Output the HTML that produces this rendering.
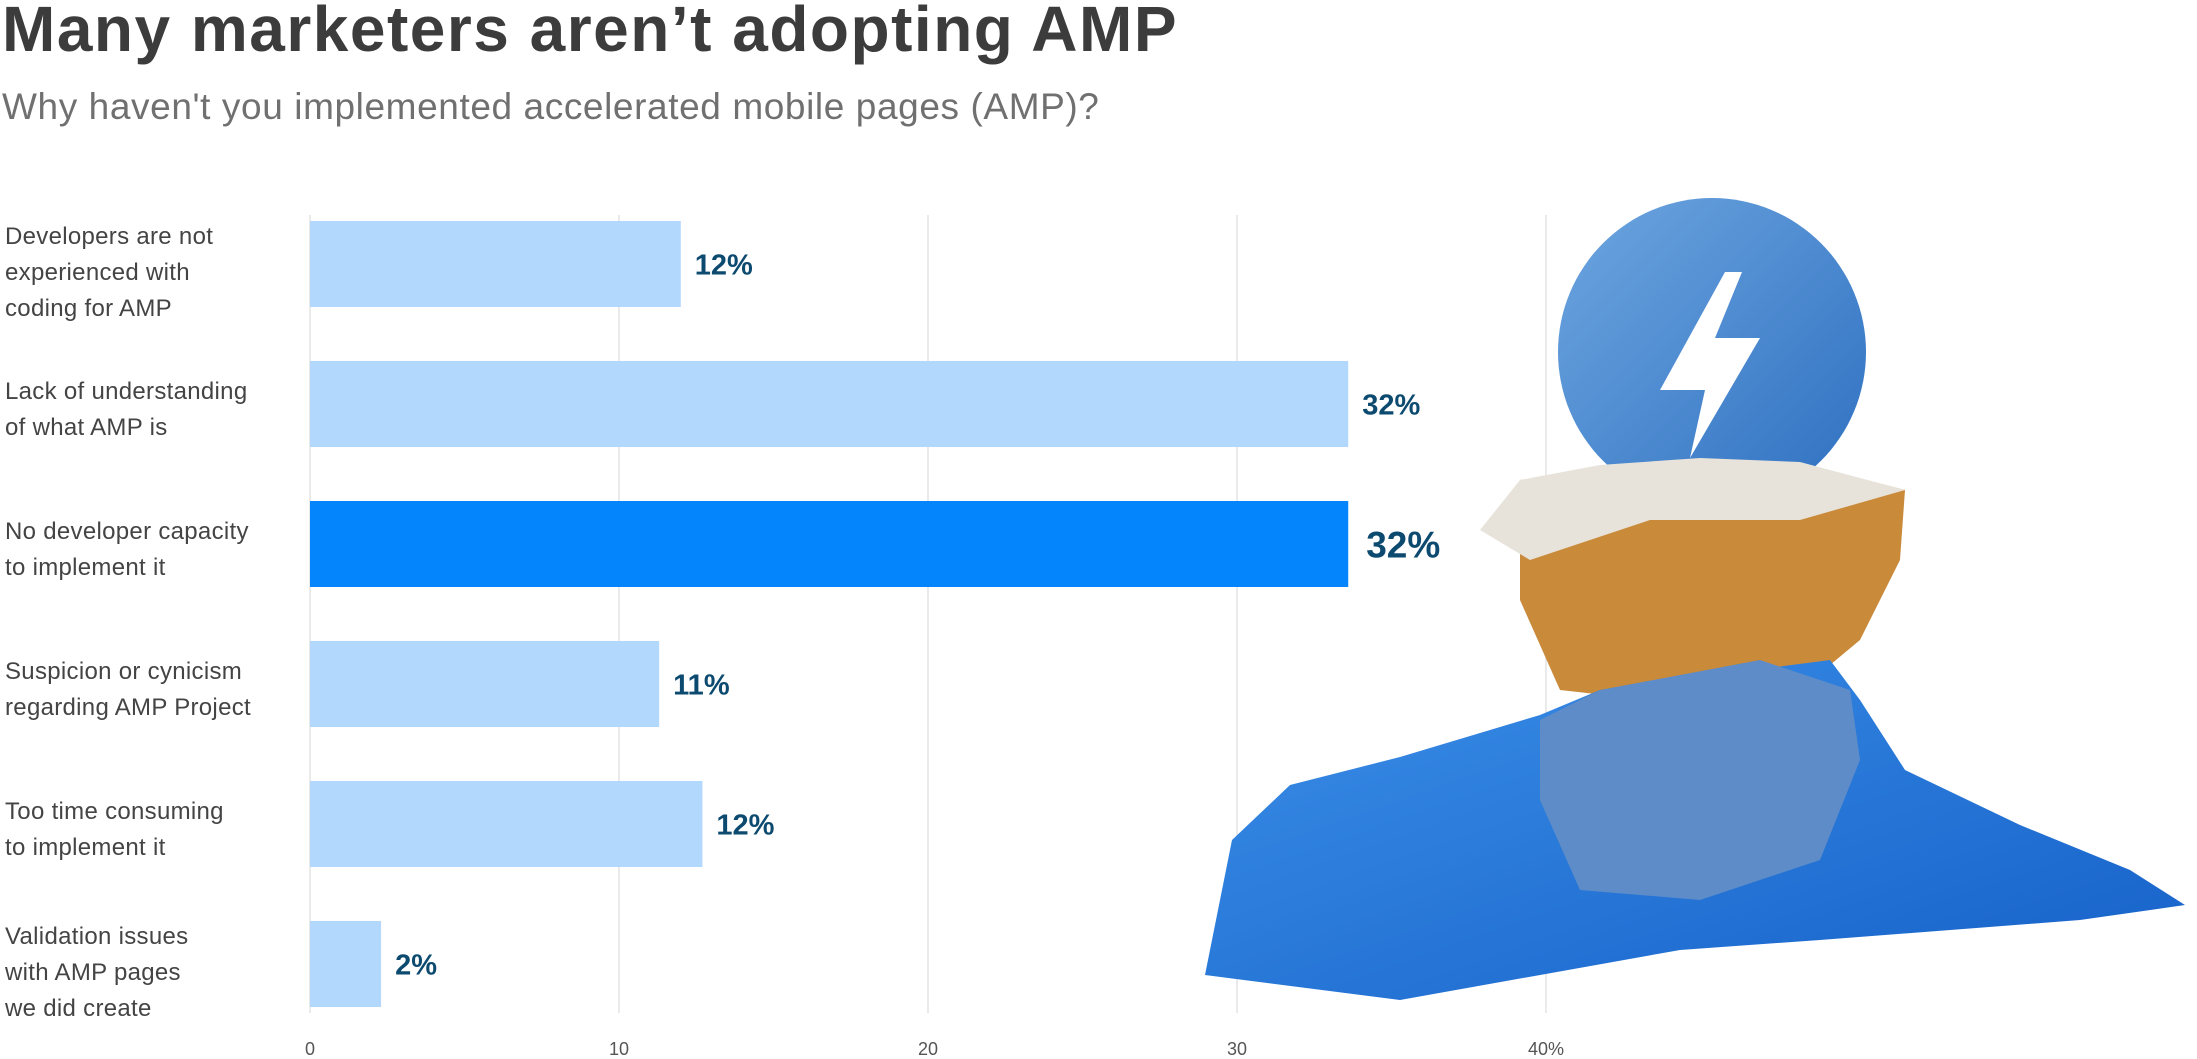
<!DOCTYPE html>
<html><head><meta charset="utf-8"><style>
body{margin:0;width:2197px;height:1059px;background:#fff;overflow:hidden;position:relative;font-family:"Liberation Sans",sans-serif}
.t{position:absolute;left:2px;top:-8px;font-size:64px;font-weight:bold;color:#3c3c3c;letter-spacing:1.5px}
.s{position:absolute;left:2px;top:86px;font-size:37px;color:#707070;letter-spacing:0.6px}
.lab{position:absolute;left:5px;font-size:24px;line-height:36px;color:#444;letter-spacing:0.3px}
</style></head><body>
<div class="t">Many marketers aren’t adopting AMP</div>
<div class="s">Why haven't you implemented accelerated mobile pages (AMP)?</div>
<svg id="chart" width="2197" height="1059" style="position:absolute;left:0;top:0"></svg>
<svg id="ill" width="2197" height="1059" style="position:absolute;left:0;top:0">
<defs><linearGradient id="sg" x1="0" y1="0" x2="1" y2="1"><stop offset="0" stop-color="#3b8fe8"/><stop offset="1" stop-color="#1560c8"/></linearGradient>
<linearGradient id="cg" x1="0" y1="0" x2="1" y2="1"><stop offset="0" stop-color="#6ea6e0"/><stop offset="1" stop-color="#2d6fc0"/></linearGradient></defs>
<g>
<circle cx="1712" cy="352" r="154" fill="url(#cg)"/>
<polygon points="1725,272 1660,390 1705,390 1690,458 1760,338 1715,338 1742,272" fill="#fff"/>
</g>
<polygon points="1520,480 1600,470 1700,460 1820,468 1905,490 1900,560 1860,640 1800,690 1650,700 1560,690 1520,600" fill="#c98a3a"/>
<polygon points="1480,530 1520,480 1600,465 1700,458 1800,462 1905,490 1800,520 1650,520 1530,560" fill="#e7e3da"/>
<polygon points="1205,975 1232,840 1290,785 1400,757 1540,715 1600,690 1830,660 1860,700 1905,770 2020,825 2130,870 2185,905 2080,920 1820,940 1680,950 1400,1000" fill="url(#sg)"/>
<polygon points="1540,720 1600,690 1760,660 1850,690 1860,760 1820,860 1700,900 1580,890 1540,800" fill="#5d8cc8"/>
</svg>
<script>
const categories=[["Developers are not","experienced with","coding for AMP"],["Lack of understanding","of what AMP is"],["No developer capacity","to implement it"],["Suspicion or cynicism","regarding AMP Project"],["Too time consuming","to implement it"],["Validation issues","with AMP pages","we did create"]];
const values=[12.0,33.6,33.6,11.3,12.7,2.3];
const valueLabels=["12%","32%","32%","11%","12%","2%"];
const highlight=[false,false,true,false,false,false];
const ticks=[0,10,20,30,40];
const tickLabels=["0","10","20","30","40%"];
const ns="http://www.w3.org/2000/svg",svg=document.getElementById('chart');
const x=v=>310+v*30.9, yTop=i=>221+i*140, bh=86;
function mk(t,a){const e=document.createElementNS(ns,t);for(const k in a)e.setAttribute(k,a[k]);svg.appendChild(e);return e;}
ticks.forEach((t,i)=>{
 const l=mk('line',{x1:x(t),x2:x(t),y1:215,y2:1013,stroke:'#e3e3e3','stroke-width':1.5});
 
 
 const tx=mk('text',{x:x(t),y:1055,'font-size':18,fill:'#555','text-anchor':'middle','font-family':'Liberation Sans'});
 tx.textContent=tickLabels[i];
 
 
});
values.forEach((v,i)=>{
 const r=mk('rect',{x:x(0),y:yTop(i),width:x(v)-x(0),height:bh,fill:highlight[i]?'#0485fb':'#b3d8fd'});
 
 
 const fs=highlight[i]?37:29;
 const t=mk('text',{x:x(v)+(highlight[i]?18:14),y:yTop(i)+bh/2+fs*0.36,'font-size':fs,'font-weight':'bold',fill:'#0d4a70','font-family':'Liberation Sans'});
 t.textContent=valueLabels[i];
 
 
 const lines=categories[i];
 const d=document.createElement('div');
 d.className='lab';
 d.style.top=(yTop(i)+bh/2-lines.length*18+(lines.length==3?9:6))+'px';
 d.innerHTML=lines.join('<br>');
 
 
 document.body.appendChild(d);
});
</script>
</body></html>
